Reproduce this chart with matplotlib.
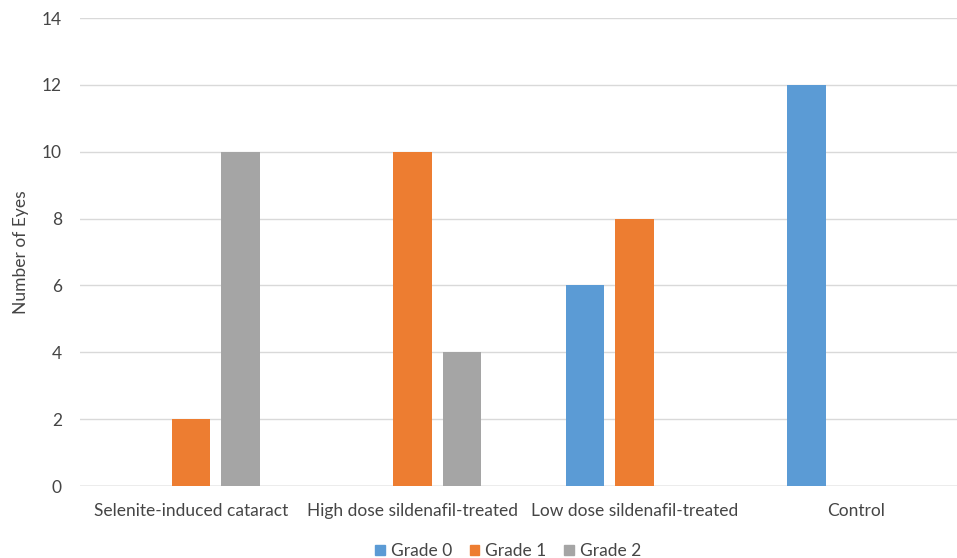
import numpy as np
import matplotlib.pyplot as plt
from matplotlib.patches import Patch

plt.rcParams['font.family'] = ['Lato', 'DejaVu Sans']

groups = ['Selenite-induced cataract', 'High dose sildenafil-treated',
          'Low dose sildenafil-treated', 'Control']
series = ['Grade 0', 'Grade 1', 'Grade 2']
grade0 = [0, 0, 6, 12]
grade1 = [2, 10, 8, 0]
grade2 = [10, 4, 0, 0]
colors = ['#5B9BD5', '#ED7D31', '#A5A5A5']
txt = '#454545'

fig = plt.figure(figsize=(9.57, 5.58), dpi=100)
ax = fig.add_axes([0.0836, 0.129, 0.927, 0.8387])

x = np.arange(len(groups))
w = 0.174
step = 0.223
for i, (vals, c) in enumerate(zip([grade0, grade1, grade2], colors)):
    ax.bar(x + (i - 1) * step, vals, width=w, color=c, zorder=3)

ax.set_xlim(-0.5, len(groups) - 0.5)
ax.set_ylim(0, 14)
ax.set_yticks(range(0, 15, 2))
ax.set_xticks(x)
ax.set_xticklabels(groups)
ax.grid(axis='y', color='#D9D9D9', linewidth=1.0, zorder=0)
ax.axhline(0, color='#BFBFBF', linewidth=1.0, zorder=2)
for s in ax.spines.values():
    s.set_visible(False)
ax.tick_params(length=0, labelsize=12.5, labelcolor=txt)
ax.tick_params(axis='y', pad=13)
ax.tick_params(axis='x', pad=12)
ax.set_ylabel('Number of Eyes', fontsize=12.5, color=txt, labelpad=9)

handles = [Patch(color=c, label=s) for c, s in zip(colors, series)]
fig.legend(handles=handles, loc='center', bbox_to_anchor=(0.531, 0.012),
           ncol=3, frameon=False, fontsize=12.5, handlelength=0.55,
           handleheight=0.55, handletextpad=0.35, columnspacing=1.0,
           labelcolor=txt, borderpad=0)

fig.savefig('out.png', dpi=100)
